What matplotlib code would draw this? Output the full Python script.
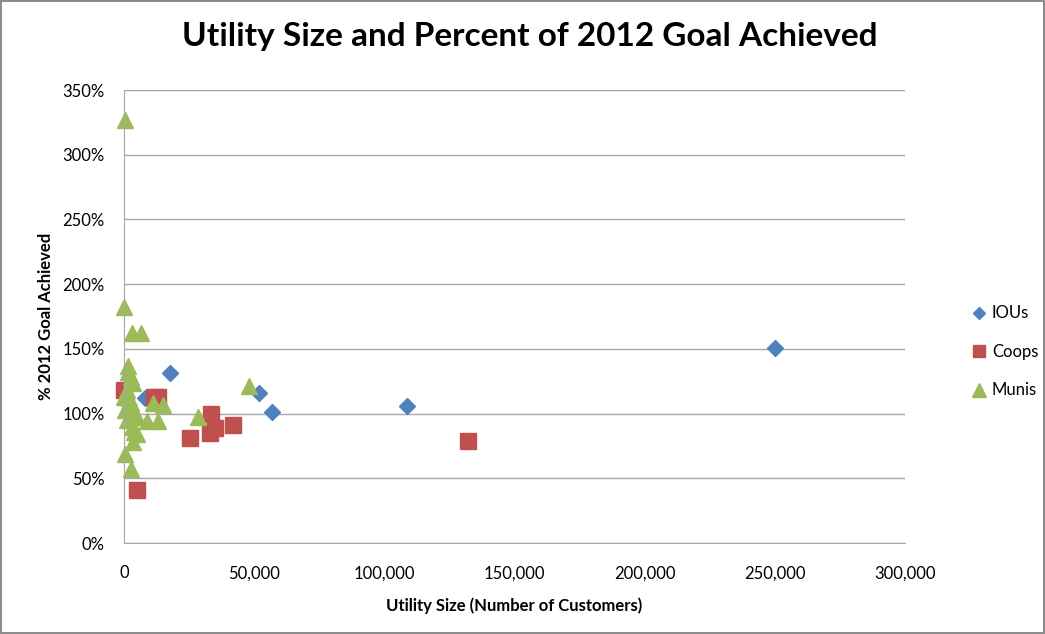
import matplotlib.pyplot as plt
from matplotlib.ticker import FuncFormatter

# customers, percent of 2012 goal achieved
iou_x = [250000, 108500, 57000, 52000, 17500, 8000]
iou_y = [151, 106, 101, 116, 131, 112]

coop_x = [5000, 25500, 33000, 33500, 35000, 42000, 132000, 0, 11500, 13000]
coop_y = [41, 81, 85, 100, 89, 91, 79, 118, 113, 113]

muni_x = [500, 0, 3000, 6500, 48000, 28500, 11000, 15000, 9000, 13000,
          1500, 2500, 3500, 1000, 0, 2500, 500, 3500, 1000, 5000,
          3000, 5000, 3500, 500, 2500, 1500, 4000, 2000]
muni_y = [327, 182, 162, 162, 121, 97, 108, 107, 94, 94,
          137, 128, 124, 118, 113, 108, 103, 100, 95, 97,
          90, 84, 78, 69, 57, 132, 86, 112]

plt.rcParams['font.family'] = ['Lato', 'DejaVu Sans']

fig = plt.figure(figsize=(10.45, 6.34), dpi=100)
fig.patch.set_edgecolor('#8c8c8c')
fig.patch.set_linewidth(1.5)
ax = fig.add_axes([0.1187, 0.1435, 0.7474, 0.7145])

ax.plot(iou_x, iou_y, 'D', color='#4F81BD', ms=8, label='IOUs', linestyle='none', clip_on=False)
ax.plot(coop_x, coop_y, 's', color='#C0504D', ms=11, label='Coops', linestyle='none', clip_on=False)
ax.plot(muni_x, muni_y, '^', color='#9BBB59', ms=12, label='Munis', linestyle='none', clip_on=False)

ax.set_xlim(0, 300000)
ax.set_ylim(0, 350)
ax.set_xticks(range(0, 300001, 50000))
ax.set_yticks(range(0, 351, 50))
ax.xaxis.set_major_formatter(FuncFormatter(lambda v, p: f'{int(v):,}'))
ax.yaxis.set_major_formatter(FuncFormatter(lambda v, p: f'{int(v)}%'))
ax.tick_params(labelsize=12, colors='#000000', length=0)
ax.tick_params(axis='x', pad=16)
ax.tick_params(axis='y', pad=14)
ax.grid(axis='y', color='#a6a6a6', linewidth=1)
ax.set_axisbelow(True)
for s in ['top', 'right']:
    ax.spines[s].set_visible(False)
for s in ['left', 'bottom']:
    ax.spines[s].set_color('#a6a6a6')

fig.suptitle('Utility Size and Percent of 2012 Goal Achieved', fontsize=24,
             fontweight='bold', x=0.507, y=0.965, va='top')
ax.set_xlabel('Utility Size (Number of Customers)', fontsize=12, fontweight='bold', labelpad=12)
ax.set_ylabel('% 2012 Goal Achieved', fontsize=12, fontweight='bold', labelpad=6)

fig.legend(loc='center left', bbox_to_anchor=(0.93, 0.445), frameon=False,
           fontsize=12, handlelength=0.8, handletextpad=0.4, labelspacing=1.35,
           markerscale=0.8, borderpad=0, borderaxespad=0)

fig.savefig('out.png', dpi=100, edgecolor=fig.get_edgecolor())
